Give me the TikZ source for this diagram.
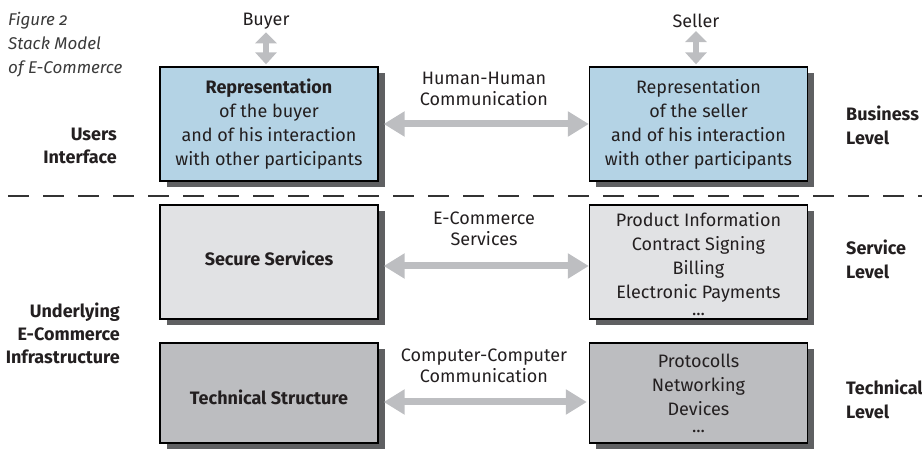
\documentclass[tikz,border=0pt]{standalone}
\usepackage{fontspec}
\setmainfont{Fira Sans}
\newfontfamily\capfont[Numbers=OldStyle]{Fira Sans}
\usetikzlibrary{arrows.meta,shadows}
\definecolor{boxblue}{HTML}{B4D3E5}
\definecolor{lgray}{HTML}{E1E2E4}
\definecolor{dgray}{HTML}{BCBDC0}
\definecolor{arrgray}{HTML}{BDBEC1}
\definecolor{shadowgray}{HTML}{5F6062}
\definecolor{txt}{HTML}{231F20}
\definecolor{captxt}{HTML}{3A3A3A}
\tikzset{
  every node/.style={inner sep=0pt, text=txt, font=\fontsize{18}{24}\selectfont},
  stackbox/.style={draw=black, line width=1.3pt, minimum width=218pt, minimum height=114pt,
    drop shadow={shadow xshift=6.5pt, shadow yshift=-6.5pt, fill=shadowgray, opacity=1}},
  boxtext/.style={align=center},
  arrlabel/.style={align=center, font=\fontsize{18}{21}\selectfont},
  levellabel/.style={align=left, anchor=west, font=\fontsize{18}{24}\selectfont\bfseries},
  sidelabel/.style={align=right, anchor=east, font=\fontsize{18}{23}\selectfont\bfseries},
  harrow/.style={draw=arrgray, line width=7pt, {Triangle[length=21pt,width=24pt]}-{Triangle[length=21pt,width=24pt]}},
  varrow/.style={draw=arrgray, line width=6pt, {Triangle[length=11pt,width=21pt]}-{Triangle[length=12pt,width=21pt]}},
}
\begin{document}
\begin{tikzpicture}[x=1pt,y=-1pt]
\useasboundingbox (0,0) rectangle (922,470);
% caption
\node[anchor=west, align=left, text=captxt, font=\capfont\itshape\fontsize{17}{24}\selectfont] (cap) at (8,45) {Figure 2\\Stack Model\\of E-Commerce};
% separator
\draw[draw=black!80, line width=1.2pt, dash pattern=on 21pt off 14pt] (8,196) -- (922,196);
% boxes
\node[stackbox, fill=boxblue] (lb) at (269,124) {};
\node[stackbox, fill=boxblue] (rb) at (698.5,124) {};
\node[stackbox, fill=lgray] (ls) at (269,262) {};
\node[stackbox, fill=lgray] (rs) at (698.5,262) {};
\node[stackbox, fill=dgray, minimum height=100pt] (lt) at (269,393) {};
\node[stackbox, fill=dgray, minimum height=100pt] (rt) at (698.5,393) {};
% box texts
\node[boxtext] (lbt) at (lb.center) {\textbf{Representation}\\of the buyer\\and of his interaction\\with other participants};
\node[boxtext] (rbt) at (rb.center) {Representation\\of the seller\\and of his interaction\\with other participants};
\node[boxtext, font=\fontsize{18}{24}\selectfont\bfseries] (lst) at ([yshift=4pt]ls.center) {Secure Services};
\node[boxtext] (rst) at ([yshift=-2pt]rs.center) {Product Information\\Contract Signing\\Billing\\Electronic Payments\\[-7pt]...};
\node[boxtext, font=\fontsize{18}{24}\selectfont\bfseries] (ltt) at ([yshift=-4pt]lt.center) {Technical Structure};
\node[boxtext] (rtt) at (rt.center) {Protocolls\\Networking\\Devices\\[-7pt]...};
% top labels
\node (buyer) at (266,21) {Buyer};
\node (seller) at (696,21) {Seller};
\draw[varrow, shorten <=3pt, shorten >=2pt] (buyer.south) -- (buyer.south |- lb.north);
\draw[varrow, shorten <=3pt, shorten >=2pt] (seller.south) -- (seller.south |- rb.north);
% arrow labels
\node[arrlabel] (hh) at (484,89) {Human-Human\\Communication};
\node[arrlabel] (ecs) at (484,229) {E-Commerce\\Services};
\node[arrlabel] (cc) at (484,366) {Computer-Computer\\Communication};
% horizontal arrows
\draw[harrow, shorten <=5pt] (lb.east) -- (rb.west);
\draw[harrow, shorten <=5pt] ([yshift=-4pt]ls.east) -- ([yshift=-4pt]rs.west);
\draw[harrow, shorten <=5pt, shorten >=2pt] ([yshift=-9pt]lt.east) -- ([yshift=-9pt]rt.west);
% side labels
\node[sidelabel] (ui) at (117,145.5) {Users\\Interface};
\node[sidelabel] (uei) at (120,333) {Underlying\\E-Commerce\\Infrastructure};
\node[levellabel] (bl) at (846,125) {Business\\Level};
\node[levellabel] (sl) at (846,259) {Service\\Level};
\node[levellabel] (tl) at (846,399) {Technical\\Level};
\end{tikzpicture}
\end{document}
